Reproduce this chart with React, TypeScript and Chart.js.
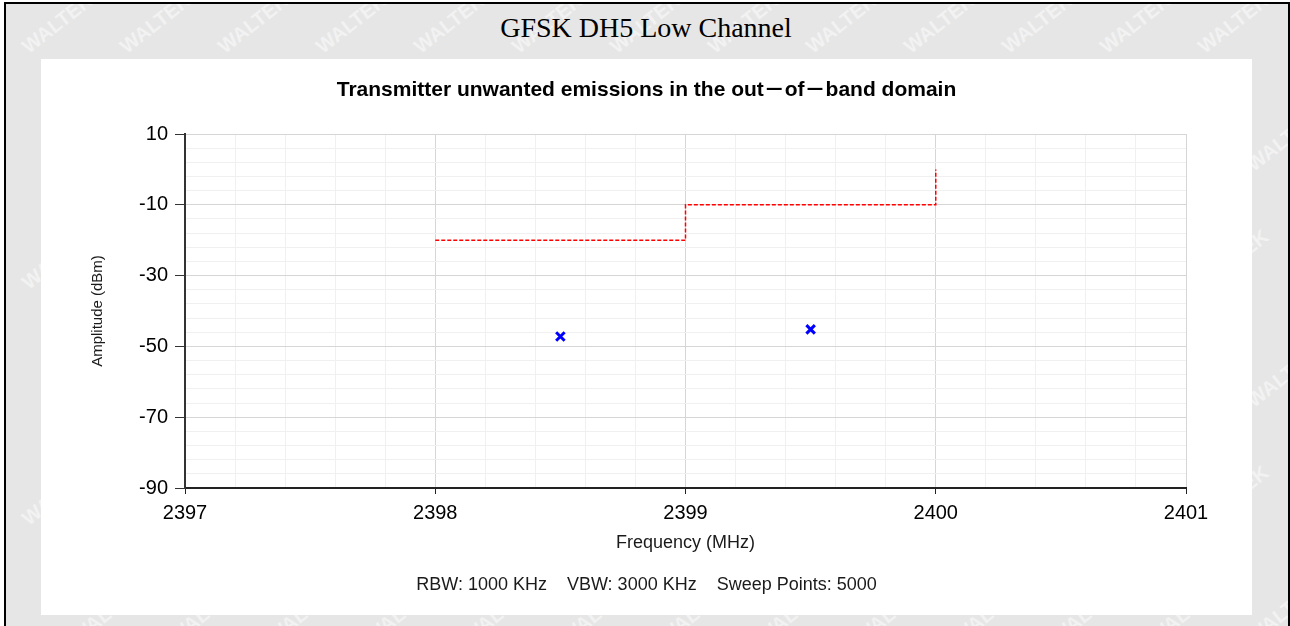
import React, { useEffect, useRef } from "react";
import { Chart, registerables } from "chart.js";

Chart.register(...registerables);

// ---- data ----
const pageTitle = "GFSK DH5 Low Channel";
const chartTitle = "Transmitter unwanted emissions in the out－of－band domain";
const footerText = "RBW: 1000 KHz    VBW: 3000 KHz    Sweep Points: 5000";
const xAxisTitle = "Frequency (MHz)";
const yAxisTitle = "Amplitude (dBm)";

const frequencyTicks = [2397, 2398, 2399, 2400, 2401];
const amplitudeTicks = [10, -10, -30, -50, -70, -90];
const xMinorStep = 0.2;
const yMinorStep = 4;

const limitFreq = [2398, 2399, 2399, 2400, 2400];
const limitLevel = [-20, -20, -10, -10, 0];

const peakFreq = [2398.5, 2399.5];
const peakLevel = [-47.2, -45.2];

const SANS = "'Liberation Sans', Arial, 'Noto Sans CJK SC', sans-serif";

function makeTicks(min: number, max: number, step: number) {
  const out: { value: number }[] = [];
  const n = Math.round((max - min) / step);
  for (let i = 0; i <= n; i++) out.push({ value: Math.round((min + i * step) * 1000) / 1000 });
  return out;
}

const isMajor = (list: number[], v: number) => list.some((m) => Math.abs(m - v) < 1e-6);

export default function App() {
  const ref = useRef<HTMLCanvasElement | null>(null);

  useEffect(() => {
    if (!ref.current) return;
    const xMin = Math.min(...frequencyTicks);
    const xMax = Math.max(...frequencyTicks);
    const yMin = Math.min(...amplitudeTicks);
    const yMax = Math.max(...amplitudeTicks);

    const chart = new Chart(ref.current, {
      type: "scatter",
      data: {
        datasets: [
          {
            label: "Limit",
            data: limitFreq.map((x, i) => ({ x, y: limitLevel[i] })),
            showLine: true,
            borderColor: "#ff0000",
            backgroundColor: "#ff0000",
            borderWidth: 1.5,
            borderDash: [4, 2],
            pointRadius: 0,
            tension: 0,
            fill: false,
          },
          {
            label: "Peak",
            data: peakFreq.map((x, i) => ({ x, y: peakLevel[i] })),
            showLine: false,
            pointStyle: "crossRot",
            pointRadius: 6,
            borderWidth: 3,
            borderColor: "#0000ff",
            backgroundColor: "#0000ff",
          },
        ],
      },
      options: {
        animation: false,
        responsive: false,
        devicePixelRatio: 1,
        layout: { padding: 0 },
        plugins: {
          legend: { display: false },
          tooltip: { enabled: false },
          title: {
            display: true,
            text: chartTitle,
            color: "#000",
            font: { family: SANS, size: 21, weight: "bold" },
            padding: { top: 18.4, bottom: 31.4 },
          },
          subtitle: {
            display: true,
            position: "bottom",
            text: footerText,
            color: "#1a1a1a",
            font: { family: SANS, size: 18 },
            padding: { top: 6.2, bottom: 19.2 },
          },
        },
        scales: {
          x: {
            type: "linear",
            position: "bottom",
            min: xMin,
            max: xMax,
            afterBuildTicks: (s: any) => {
              s.ticks = makeTicks(xMin, xMax, xMinorStep);
            },
            afterFit: (s: any) => {
              s.height = 80;
            },
            ticks: {
              autoSkip: false,
              maxRotation: 0,
              padding: 7,
              color: "#000",
              font: { family: SANS, size: 20 },
              callback: (v: any) => (isMajor(frequencyTicks, Number(v)) ? String(Math.round(Number(v))) : ""),
            },
            grid: {
              color: (c: any) => (isMajor(frequencyTicks, c.tick?.value) ? "#d6d6d6" : "#f0f0f0"),
              tickColor: (c: any) => (isMajor(frequencyTicks, c.tick?.value) ? "#222" : "rgba(0,0,0,0)"),
              tickLength: 6,
              lineWidth: 1,
            },
            border: { display: true, color: "#222", width: 2 },
            title: {
              display: true,
              text: xAxisTitle,
              color: "#1a1a1a",
              font: { family: SANS, size: 18 },
              padding: { top: 0, bottom: 14.2 },
            },
          },
          y: {
            type: "linear",
            position: "left",
            min: yMin,
            max: yMax,
            afterBuildTicks: (s: any) => {
              s.ticks = makeTicks(yMin, yMax, yMinorStep);
            },
            afterFit: (s: any) => {
              s.width = 144;
            },
            ticks: {
              autoSkip: false,
              padding: 7,
              color: "#000",
              font: { family: SANS, size: 20 },
              callback: (v: any) => (isMajor(amplitudeTicks, Number(v)) ? String(Math.round(Number(v))) : ""),
            },
            grid: {
              color: (c: any) => (isMajor(amplitudeTicks, c.tick?.value) ? "#d6d6d6" : "#f0f0f0"),
              tickColor: (c: any) => (isMajor(amplitudeTicks, c.tick?.value) ? "#333" : "rgba(0,0,0,0)"),
              tickLength: 10,
              lineWidth: 1,
            },
            border: { display: true, color: "#333", width: 2 },
            title: {
              display: true,
              text: yAxisTitle,
              color: "#1a1a1a",
              font: { family: SANS, size: 15 },
              padding: { top: 48, bottom: 0 },
            },
          },
          yr: {
            type: "linear",
            position: "right",
            display: true,
            ticks: { display: false },
            grid: { display: false, drawTicks: false },
            border: { display: false },
            afterFit: (s: any) => {
              s.width = 66;
            },
          },
        },
      } as any,
    });
    return () => chart.destroy();
  }, []);

  const marks: { x: number; y: number }[] = [];
  for (let r = 0; r < 6; r++) {
    for (let c = 0; c < 14; c++) {
      marks.push({ x: c * 98 + (r % 2) * 49 + 10, y: r * 118 + 8 });
    }
  }

  return (
    <div
      style={{
        position: "absolute",
        left: 0,
        top: 0,
        width: 1290,
        height: 626,
        background: "#ffffff",
        overflow: "hidden",
      }}
    >
      <div
        style={{
          position: "absolute",
          left: 4,
          top: 2,
          width: 1282,
          height: 640,
          border: "2px solid #000",
          background: "#e6e6e6",
          overflow: "hidden",
        }}
      >
        {marks.map((m, i) => (
          <span
            key={i}
            style={{
              position: "absolute",
              left: m.x,
              top: m.y,
              fontFamily: SANS,
              fontWeight: "bold",
              fontSize: 20,
              color: "rgba(255,255,255,0.5)",
              transform: "rotate(-38deg)",
              whiteSpace: "nowrap",
            }}
          >
            WALTEK
          </span>
        ))}
      </div>
      <div
        style={{
          position: "absolute",
          left: 0,
          top: 11,
          width: 1292,
          textAlign: "center",
          fontFamily: "'Liberation Serif', 'Times New Roman', serif",
          fontSize: 28,
          lineHeight: "34px",
          color: "#000",
        }}
      >
        {pageTitle}
      </div>
      <div
        style={{
          position: "absolute",
          left: 41,
          top: 59,
          width: 1211,
          height: 556,
          background: "#ffffff",
        }}
      >
        <canvas ref={ref} width={1211} height={556} style={{ display: "block", width: 1211, height: 556 }} />
      </div>
    </div>
  );
}
